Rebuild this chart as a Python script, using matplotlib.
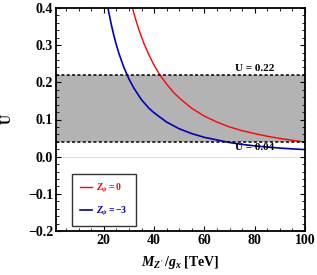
import matplotlib
matplotlib.use("Agg")
import matplotlib.pyplot as plt
from matplotlib.ticker import MultipleLocator

# Data
x_red = [30, 31, 32, 33, 34, 36, 38, 40, 42, 45, 48, 50, 55, 60, 65, 70, 75, 80, 85, 90, 95, 100]
u_red = [0.438, 0.410, 0.385, 0.362, 0.341, 0.304, 0.273, 0.246, 0.223, 0.195, 0.171, 0.158,
         0.130, 0.109, 0.093, 0.080, 0.070, 0.062, 0.055, 0.049, 0.044, 0.039]
x_blue = [20, 21, 22, 23, 24, 25, 26, 28, 30, 32, 35, 38, 40, 45, 50, 55, 60, 65, 70, 75, 80,
          85, 90, 95, 100]
u_blue = [0.470, 0.426, 0.388, 0.355, 0.326, 0.301, 0.278, 0.240, 0.209, 0.184, 0.153, 0.130,
          0.118, 0.093, 0.075, 0.062, 0.052, 0.045, 0.038, 0.033, 0.029, 0.026, 0.023, 0.021,
          0.019]
band = [0.04, 0.22]
labels = [r"$Z_\psi = 0$", r"$Z_\psi = -3$"]

plt.rcParams['font.family'] = ['Liberation Serif', 'DejaVu Serif']
plt.rcParams['font.weight'] = 'bold'
plt.rcParams['mathtext.fontset'] = 'custom'
plt.rcParams['mathtext.rm'] = 'Liberation Serif:bold'
plt.rcParams['mathtext.it'] = 'Liberation Serif:bold:italic'
plt.rcParams['mathtext.bf'] = 'Liberation Serif:bold'

fig = plt.figure(figsize=(3.17, 2.75), dpi=100)
ax = fig.add_axes([56/317, 1 - 231/275, (305-56)/317, (231-8)/275])

ax.axhspan(band[0], band[1], color='#b3b3b3', zorder=0, lw=0)
ax.axhline(0, color='#e0e0e0', lw=0.8, zorder=0.5)
for b in band:
    ax.axhline(b, color='black', ls=(0, (2.0, 1.5)), lw=1.1, zorder=3)

l1, = ax.plot(x_red, u_red, color='#ff0000', lw=1.0, zorder=2)
l2, = ax.plot(x_blue, u_blue, color='#0000b4', lw=1.2, zorder=2)

ax.set_xlim(1, 100)
ax.set_ylim(-0.2, 0.4)
ax.xaxis.set_major_locator(MultipleLocator(20))
ax.xaxis.set_minor_locator(MultipleLocator(5))
ax.yaxis.set_major_locator(MultipleLocator(0.1))
ax.yaxis.set_minor_locator(MultipleLocator(0.02))
ax.tick_params(which='both', direction='in', top=True, right=True, labelsize=10, pad=2)
ax.tick_params(which='major', length=3.5, width=0.8)
ax.tick_params(which='minor', length=2, width=0.6)
ax.set_xticks([20, 40, 60, 80, 100])
ax.set_yticks([-0.2, -0.1, 0.0, 0.1, 0.2, 0.3, 0.4])
ax.set_yticklabels(['\u22120.2', '\u22120.1', '0.0', '0.1', '0.2', '0.3', '0.4'])
for s in ax.spines.values():
    s.set_linewidth(1.3)

ax.text(80, 0.226, 'U = 0.22', fontsize=8, fontweight='bold', ha='center', va='bottom')
ax.text(80, 0.037, 'U = 0.04', fontsize=8, fontweight='bold', ha='center', va='top')

ax.set_ylabel('U', fontsize=10, fontweight='bold')
ax.yaxis.set_label_coords(-0.172, 0.5)
ax.set_xlabel(r"$M_{Z'}\,/g_x$ [TeV]", fontsize=10, fontweight='bold', labelpad=5)

leg = ax.legend([l1, l2], labels, loc='lower left', bbox_to_anchor=(0.045, 0.0),
                fontsize=7, frameon=True, fancybox=False, edgecolor='black',
                handlelength=1.2, borderpad=0.8, labelspacing=1.1, handletextpad=0.5)
leg.get_frame().set_linewidth(1.0)
for t, c in zip(leg.get_texts(), ['#ff0000', '#0000b4']):
    t.set_color(c)

fig.savefig('out.png', dpi=100)
